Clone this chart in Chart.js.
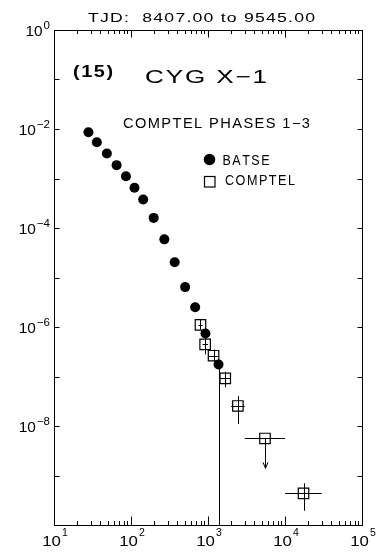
<!DOCTYPE html>
<html>
<head>
<meta charset="utf-8">
<script src="https://cdn.jsdelivr.net/npm/chart.js@4/dist/chart.umd.min.js"></script>
<style>
  html, body { margin: 0; padding: 0; background: #fff; }
  canvas { display: block; }
</style>
</head>
<body>
<canvas id="spec" width="385" height="555"></canvas>
<script>
// Cyg X-1 broad-band spectrum: BATSE (filled circles) and COMPTEL (open squares)
// Energy in keV, flux in photons cm^-2 s^-1 keV^-1

const batseEnergy = [28, 36, 48.6, 65, 86, 111, 144, 197, 271, 369, 505, 681, 927, 1371];
const batseFlux   = [8.6e-3, 5.4e-3, 3.2e-3, 1.86e-3, 1.11e-3, 6.5e-4, 3.77e-4, 1.6e-4,
                     5.9e-5, 2.04e-5, 6.4e-6, 2.5e-6, 7.4e-7, 1.75e-7];
// lower end of the flux error bar (null where it stays hidden under the marker)
const batseFluxLow = [null, null, null, null, null, null, null, null,
                      null, null, null, null, null, 1e-12];

const comptelEnergy   = [798, 918, 1180, 1676, 2444, 5495, 17400];
const comptelELow     = [750, 850, 1000, 1450, 2000, 3000, 10000];
const comptelEHigh    = [850, 1000, 1400, 1950, 3000, 10000, 30000];
const comptelFlux     = [1.1e-6, 4.47e-7, 2.63e-7, 9.2e-8, 2.54e-8, 5.6e-9, 4.37e-10];
const comptelFluxLow  = [8.8e-7, 2.8e-7, 2.0e-7, 6.05e-8, 1.1e-8, 1.4e-9, 1.94e-10];
const comptelFluxHigh = [1.4e-6, 6.2e-7, 3.5e-7, 1.25e-7, 4.04e-8, 5.6e-9, 6.96e-10];
const comptelUpperLimit = [false, false, false, false, false, true, false];

const xLabelValues = [10, 100, 1000, 10000, 100000];
const xLabelExps   = ['1', '2', '3', '4', '5'];
const yLabelValues = [1, 1e-2, 1e-4, 1e-6, 1e-8];
const yLabelExps   = ['0', '\u22122', '\u22124', '\u22126', '\u22128'];

const titleText   = 'TJD:  8407.00 to 9545.00';
const sourceId    = '(15)';
const sourceName  = 'CYG X\u22121';
const phaseText   = 'COMPTEL PHASES 1\u22123';
const legendNames = ['BATSE', 'COMPTEL'];

const FONT = '"Liberation Sans", Arial, Helvetica, sans-serif';

// Draw text glyph by glyph, widened to span a given width (plotter-style lettering)
function wideText(ctx, str, x, y, size, weight, width) {
  ctx.font = weight + ' ' + size + 'px ' + FONT;
  ctx.textAlign = 'left';
  ctx.textBaseline = 'alphabetic';
  const chars = Array.from(str);
  const gap = size * 0.1;
  const natural = chars.reduce((s, c) => s + ctx.measureText(c).width, 0);
  const sx = (width - gap * (chars.length - 1)) / natural;
  let cx = x;
  for (const c of chars) {
    const w = ctx.measureText(c).width * sx;
    ctx.save();
    ctx.translate(cx, y);
    ctx.scale(sx, 1);
    ctx.fillText(c, 0, 0);
    ctx.restore();
    cx += w + gap;
  }
  return cx - gap;
}

// "10" followed by a raised exponent; returns nothing, draws starting at x0
function powerLabel(ctx, exp, x0, baseY, baseSize, expY, expSize, stretch) {
  ctx.font = baseSize + 'px ' + FONT;
  const wb = ctx.measureText('10').width * stretch;
  ctx.save(); ctx.translate(x0, baseY); ctx.scale(stretch, 1); ctx.fillText('10', 0, 0); ctx.restore();
  ctx.font = expSize + 'px ' + FONT;
  ctx.fillText(exp, x0 + wb + 1, expY);
}

const errorBars = {
  id: 'errorBars',
  beforeDatasetsDraw(chart) {
    const ctx = chart.ctx, xs = chart.scales.x, ys = chart.scales.y, a = chart.chartArea;
    ctx.save();
    ctx.beginPath();
    ctx.rect(a.left, a.top, a.right - a.left, a.bottom - a.top);
    ctx.clip();
    ctx.strokeStyle = '#000';
    ctx.lineWidth = 1;
    // BATSE
    batseEnergy.forEach((e, i) => {
      if (batseFluxLow[i] === null) return;
      const px = Math.round(xs.getPixelForValue(e)) + 0.5;
      const py = ys.getPixelForValue(batseFlux[i]);
      const lo = ys.getPixelForValue(batseFluxLow[i]);
      ctx.beginPath(); ctx.moveTo(px, py); ctx.lineTo(px, lo); ctx.stroke();
    });
    // COMPTEL
    comptelEnergy.forEach((e, i) => {
      const px = Math.round(xs.getPixelForValue(e)) + 0.5;
      const py = Math.round(ys.getPixelForValue(comptelFlux[i])) + 0.5;
      const x0 = xs.getPixelForValue(comptelELow[i]);
      const x1 = xs.getPixelForValue(comptelEHigh[i]);
      ctx.beginPath(); ctx.moveTo(x0, py); ctx.lineTo(x1, py); ctx.stroke();
      const yLo = ys.getPixelForValue(comptelFluxLow[i]);
      const yHi = ys.getPixelForValue(comptelFluxHigh[i]);
      ctx.beginPath(); ctx.moveTo(px, yHi); ctx.lineTo(px, yLo); ctx.stroke();
      if (comptelUpperLimit[i]) {
        ctx.beginPath();
        ctx.moveTo(px - 2.5, yLo - 6); ctx.lineTo(px, yLo); ctx.lineTo(px + 2.5, yLo - 6);
        ctx.stroke();
      }
    });
    ctx.restore();
  }
};

const frameAndText = {
  id: 'frameAndText',
  afterDraw(chart) {
    const ctx = chart.ctx, xs = chart.scales.x, ys = chart.scales.y, a = chart.chartArea;
    ctx.save();
    ctx.strokeStyle = '#000';
    ctx.fillStyle = '#000';
    ctx.lineWidth = 1;
    const L = a.left + 0.5, R = a.right + 0.5, T = a.top + 0.5, B = a.bottom + 0.5;
    ctx.strokeRect(L, T, R - L, B - T);

    // x ticks: decades and 2..9 subdivisions, top and bottom, pointing inward
    ctx.beginPath();
    for (let d = 1; d <= 5; d++) {
      for (let k = 1; k <= 9; k++) {
        const v = k * Math.pow(10, d);
        if (v > 1e5) break;
        const px = Math.round(xs.getPixelForValue(v)) + 0.5;
        const major = k === 1;
        ctx.moveTo(px, B); ctx.lineTo(px, B - (major ? 9 : 4.5));
        ctx.moveTo(px, T); ctx.lineTo(px, T + (major ? 7 : 3.5));
      }
    }
    // y ticks: every decade, left and right
    for (let d = -9; d <= -1; d++) {
      const py = Math.round(ys.getPixelForValue(Math.pow(10, d))) + 0.5;
      ctx.moveTo(L, py); ctx.lineTo(L + 5, py);
      ctx.moveTo(R, py); ctx.lineTo(R - 5, py);
    }
    ctx.stroke();

    // axis labels: 10 with raised exponent
    ctx.textAlign = 'left';
    ctx.textBaseline = 'alphabetic';
    xLabelValues.forEach((v, i) => {
      const px = xs.getPixelForValue(v);
      ctx.font = '15px ' + FONT;
      const wb = ctx.measureText('10').width * 1.12 + 1;
      ctx.font = '10.5px ' + FONT;
      const we = ctx.measureText(xLabelExps[i]).width;
      const x0 = px + 1 - (wb + we) / 2;
      powerLabel(ctx, xLabelExps[i], x0, 546, 15, 535.5, 10.5, 1.12);
    });
    yLabelValues.forEach((v, i) => {
      const py = ys.getPixelForValue(v);
      ctx.font = '11.5px ' + FONT;
      const we = ctx.measureText(yLabelExps[i]).width;
      ctx.font = '14px ' + FONT;
      const wb = ctx.measureText('10').width * 1.1;
      const x0 = 50 - we - 1 - wb;
      powerLabel(ctx, yLabelExps[i], x0, py + 6, 14, py - 1.5, 11.5, 1.1);
    });

    // headings
    wideText(ctx, titleText, 88, 22, 12, 'normal', 227);
    wideText(ctx, sourceId, 73, 77, 16, 'bold', 40);
    wideText(ctx, sourceName, 145, 83, 18.5, 'normal', 122);
    wideText(ctx, phaseText, 123, 128, 14, 'normal', 187);

    // legend
    ctx.beginPath();
    ctx.arc(209.5, 159.5, 5.8, 0, Math.PI * 2);
    ctx.fill();
    ctx.lineWidth = 1.2;
    ctx.strokeRect(204.5, 176.5, 10.5, 10.5);
    wideText(ctx, legendNames[0], 222.5, 165, 15, 'normal', 47);
    wideText(ctx, legendNames[1], 225, 184.5, 15, 'normal', 70);
    ctx.restore();
  }
};

new Chart(document.getElementById('spec'), {
  type: 'scatter',
  data: {
    datasets: [
      {
        label: legendNames[0],
        data: batseEnergy.map((e, i) => ({ x: e, y: batseFlux[i] })),
        pointStyle: 'circle',
        pointRadius: 5,
        backgroundColor: '#000',
        borderColor: '#000',
        borderWidth: 0
      },
      {
        label: legendNames[1],
        data: comptelEnergy.map((e, i) => ({ x: e, y: comptelFlux[i] })),
        pointStyle: 'rect',
        pointRadius: 7.4,
        backgroundColor: 'rgba(0,0,0,0)',
        borderColor: '#000',
        borderWidth: 1.2
      }
    ]
  },
  options: {
    responsive: false,
    animation: false,
    layout: { padding: { left: 54, right: 23, top: 30, bottom: 30 } },
    plugins: { legend: { display: false }, tooltip: { enabled: false } },
    scales: {
      x: { type: 'logarithmic', min: 10, max: 1e5, display: false },
      y: { type: 'logarithmic', min: 1e-10, max: 1, display: false }
    }
  },
  plugins: [errorBars, frameAndText]
});
</script>
</body>
</html>
